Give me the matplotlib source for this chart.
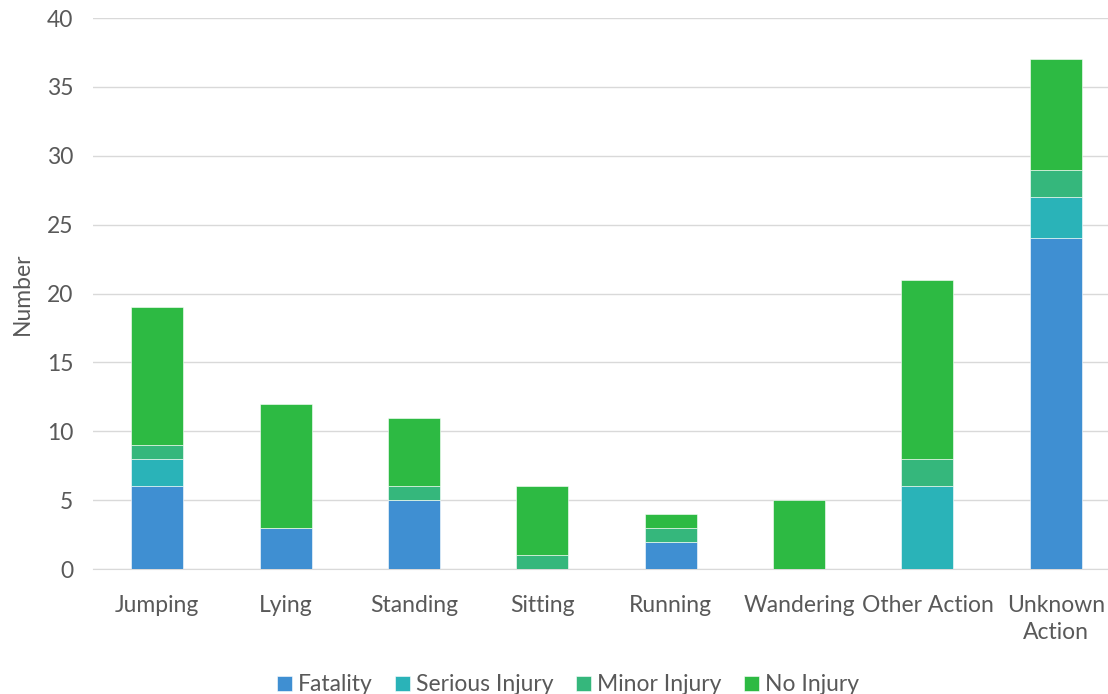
import numpy as np
import matplotlib.pyplot as plt

categories = ["Jumping", "Lying", "Standing", "Sitting", "Running",
              "Wandering", "Other Action", "Unknown\nAction"]
fatality = [6, 3, 5, 0, 2, 0, 0, 24]
serious = [2, 0, 0, 0, 0, 0, 6, 3]
minor = [1, 0, 1, 1, 1, 0, 2, 2]
no_injury = [10, 9, 5, 5, 1, 5, 13, 8]

series = [("Fatality", fatality, "#3F8FD2"),
          ("Serious Injury", serious, "#2AB3B8"),
          ("Minor Injury", minor, "#35B77C"),
          ("No Injury", no_injury, "#2DBA43")]

plt.rcParams['font.family'] = ['Lato', 'DejaVu Sans']

fig = plt.figure(figsize=(11.08, 6.94), dpi=100)
ax = fig.add_axes([0.0839, 0.180, 0.927, 0.794])

x = np.arange(len(categories))
bottom = np.zeros(len(categories))
for name, vals, col in series:
    ax.bar(x, vals, 0.405, bottom=bottom, color=col, label=name,
           edgecolor="#FFFFFF", linewidth=0.4, zorder=3)
    bottom += np.array(vals)

ax.set_xlim(-0.5, 7.5)
ax.set_ylim(0, 40)
ax.set_yticks(range(0, 41, 5))
ax.set_xticks(x)
ax.set_xticklabels(categories, linespacing=1.3)
ax.grid(axis="y", color="#D9D9D9", linewidth=1, zorder=0)
for s in ["top", "right", "left"]:
    ax.spines[s].set_visible(False)
ax.spines["bottom"].set_color("#D9D9D9")
ax.tick_params(length=0, labelsize=16.5, colors="#595959")
ax.tick_params(axis="x", pad=19)
ax.tick_params(axis="y", pad=14)
ax.set_ylabel("Number", fontsize=16.5, color="#595959", labelpad=10)

# legend centred under the visible part of the figure
ax.legend(loc="center", bbox_to_anchor=(0.4625, -0.21),
          ncol=4, frameon=False, fontsize=16.5, labelcolor="#595959",
          handlelength=0.65, handleheight=0.65, handletextpad=0.25, columnspacing=1.0)

fig.savefig("out.png")
